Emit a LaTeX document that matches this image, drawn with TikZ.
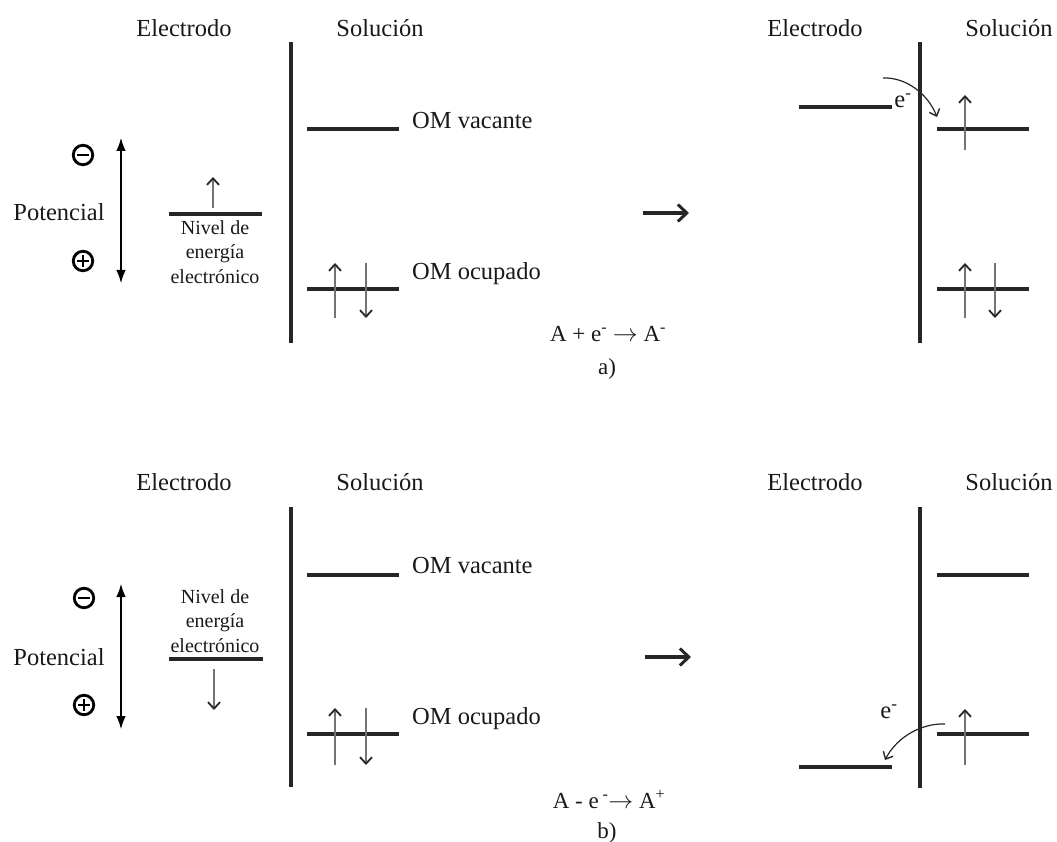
\documentclass[tikz,border=0pt]{standalone}
\usepackage{fontspec}
\setmainfont{Liberation Serif}
\usetikzlibrary{arrows.meta}
\begin{document}
\begin{tikzpicture}[x=1pt,y=-1pt,
  wall/.style={line width=3.2pt,draw=black!85},
  lvl/.style={line width=3.2pt,draw=black!85},
  spin/.style={line width=1.2pt,draw=black!55,-{Straight Barb[length=6.5pt,width=12pt,line width=1.8pt,color=black!85]}},
  potarrow/.style={line width=1.1pt,draw=black,{Latex[length=13pt,width=9.5pt]}-{Latex[length=13pt,width=9.5pt]}},
  bigarrow/.style={line width=3.2pt,draw=black!85,-{Straight Barb[length=9pt,width=17pt,line width=3pt]}},
  etrans/.style={line width=1.2pt,draw=black!85,-{Straight Barb[length=6pt,width=11pt,line width=1.4pt]}},
  lbl/.style={font=\fontsize{24.5}{28}\selectfont,inner sep=0pt,text=black!90},
  small/.style={font=\fontsize{20}{24.5}\selectfont,inner sep=0pt,align=center,text=black!90},
  eq/.style={font=\fontsize{23}{27}\selectfont,inner sep=0pt,text=black!90},
  sign/.style={circle,draw=black,line width=2.8pt,minimum size=19.5pt,inner sep=0pt},
  signbar/.style={line width=2.8pt,draw=black}
]
\useasboundingbox (0,0) rectangle (1057,842);

% ================= PANEL a) =================
\node[lbl] (aEl) at (184,28) {Electrodo};
\node[lbl] (aSo) at (380,28) {Solución};
\node[lbl] (aEl2) at (815,28) {Electrodo};
\node[lbl] (aSo2) at (1009,28) {Solución};

\coordinate (aW1) at (291,42); \coordinate (aW2) at (291,343);
\draw[wall] (aW1) -- (aW2);
\coordinate (aW3) at (920,42); \coordinate (aW4) at (920,343);
\draw[wall] (aW3) -- (aW4);

\coordinate (aP1) at (121,138); \coordinate (aP2) at (121,283);
\draw[potarrow] (aP1) -- (aP2);
\node[sign] (aNeg) at (83,155) {};
\draw[signbar] ([xshift=-6pt]aNeg.center) -- ([xshift=6pt]aNeg.center);
\node[sign] (aPos) at (83,261) {};
\draw[signbar] ([xshift=-6pt]aPos.center) -- ([xshift=6pt]aPos.center);
\draw[signbar] ([yshift=-6pt]aPos.center) -- ([yshift=6pt]aPos.center);
\node[lbl] (aPot) at (59,212) {Potencial};

\coordinate (aE1) at (169,214); \coordinate (aE2) at (262,214);
\draw[lvl] (aE1) -- (aE2);
\coordinate (aEs1) at (213,208); \coordinate (aEs2) at (213,177);
\draw[spin] (aEs1) -- (aEs2);
\node[small] (aNiv) at (215,252) {Nivel de\\energía\\electrónico};

\coordinate (aV1) at (307,129); \coordinate (aV2) at (399,129);
\draw[lvl] (aV1) -- (aV2);
\node[lbl,anchor=west] (aVl) at (412,121) {OM vacante};
\coordinate (aO1) at (307,289); \coordinate (aO2) at (399,289);
\draw[lvl] (aO1) -- (aO2);
\node[lbl,anchor=west] (aOl) at (412,274) {OM ocupado};
\coordinate (aU1) at (335,318); \coordinate (aU2) at (335,263);
\draw[spin] (aU1) -- (aU2);
\coordinate (aD1) at (366,263); \coordinate (aD2) at (366,318);
\draw[spin] (aD1) -- (aD2);

\coordinate (aM1) at (643,213); \coordinate (aM2) at (689,213);
\draw[bigarrow] (aM1) -- (aM2);
\node[eq] (aEq) at (608,334) {A + e\textsuperscript{-} $\rightarrow$ A\textsuperscript{-}};
\node[eq] (aLab) at (607,369) {a)};

\coordinate (aR1) at (799,107); \coordinate (aR2) at (892,107);
\draw[lvl] (aR1) -- (aR2);
\node[lbl] (aE) at (903,101) {e\textsuperscript{-}};
\coordinate (aT1) at (883,78); \coordinate (aT2) at (937,117);
\draw[etrans] (aT1) .. controls (906,77) and (928,94) .. (aT2);
\coordinate (aRV1) at (937,129); \coordinate (aRV2) at (1029,129);
\draw[lvl] (aRV1) -- (aRV2);
\coordinate (aRVs1) at (965,150); \coordinate (aRVs2) at (965,95);
\draw[spin] (aRVs1) -- (aRVs2);
\coordinate (aRO1) at (937,289); \coordinate (aRO2) at (1029,289);
\draw[lvl] (aRO1) -- (aRO2);
\coordinate (aRU1) at (965,318); \coordinate (aRU2) at (965,263);
\draw[spin] (aRU1) -- (aRU2);
\coordinate (aRD1) at (995,263); \coordinate (aRD2) at (995,318);
\draw[spin] (aRD1) -- (aRD2);

% ================= PANEL b) =================
\node[lbl] (bEl) at (184,482) {Electrodo};
\node[lbl] (bSo) at (380,482) {Solución};
\node[lbl] (bEl2) at (815,482) {Electrodo};
\node[lbl] (bSo2) at (1009,482) {Solución};

\coordinate (bW1) at (291,507); \coordinate (bW2) at (291,787);
\draw[wall] (bW1) -- (bW2);
\coordinate (bW3) at (920,507); \coordinate (bW4) at (920,788);
\draw[wall] (bW3) -- (bW4);

\coordinate (bP1) at (121,584); \coordinate (bP2) at (121,729);
\draw[potarrow] (bP1) -- (bP2);
\node[sign] (bNeg) at (84,598) {};
\draw[signbar] ([xshift=-6pt]bNeg.center) -- ([xshift=6pt]bNeg.center);
\node[sign] (bPos) at (84,705) {};
\draw[signbar] ([xshift=-6pt]bPos.center) -- ([xshift=6pt]bPos.center);
\draw[signbar] ([yshift=-6pt]bPos.center) -- ([yshift=6pt]bPos.center);
\node[lbl] (bPot) at (59,657) {Potencial};

\node[small] (bNiv) at (215,621) {Nivel de\\energía\\electrónico};
\coordinate (bE1) at (169,659); \coordinate (bE2) at (263,659);
\draw[lvl] (bE1) -- (bE2);
\coordinate (bEs1) at (214,669); \coordinate (bEs2) at (214,710);
\draw[spin] (bEs1) -- (bEs2);

\coordinate (bV1) at (307,575); \coordinate (bV2) at (399,575);
\draw[lvl] (bV1) -- (bV2);
\node[lbl,anchor=west] (bVl) at (412,566) {OM vacante};
\coordinate (bO1) at (307,734); \coordinate (bO2) at (399,734);
\draw[lvl] (bO1) -- (bO2);
\node[lbl,anchor=west] (bOl) at (412,719) {OM ocupado};
\coordinate (bU1) at (335,765); \coordinate (bU2) at (335,708);
\draw[spin] (bU1) -- (bU2);
\coordinate (bD1) at (366,708); \coordinate (bD2) at (366,765);
\draw[spin] (bD1) -- (bD2);

\coordinate (bM1) at (645,657); \coordinate (bM2) at (691,657);
\draw[bigarrow] (bM1) -- (bM2);
\node[eq] (bEq) at (609,800) {A - e\,\textsuperscript{-}$\rightarrow$ A\textsuperscript{+}};
\node[eq] (bLab) at (607,833) {b)};

\coordinate (bR1) at (799,767); \coordinate (bR2) at (892,767);
\draw[lvl] (bR1) -- (bR2);
\node[lbl] (bE) at (889,712) {e\textsuperscript{-}};
\coordinate (bT1) at (945,724); \coordinate (bT2) at (885,760);
\draw[etrans] (bT1) .. controls (924,723) and (898,735) .. (bT2);
\coordinate (bRV1) at (937,575); \coordinate (bRV2) at (1029,575);
\draw[lvl] (bRV1) -- (bRV2);
\coordinate (bRO1) at (937,734); \coordinate (bRO2) at (1029,734);
\draw[lvl] (bRO1) -- (bRO2);
\coordinate (bRU1) at (965,765); \coordinate (bRU2) at (965,709);
\draw[spin] (bRU1) -- (bRU2);
\end{tikzpicture}
\end{document}
